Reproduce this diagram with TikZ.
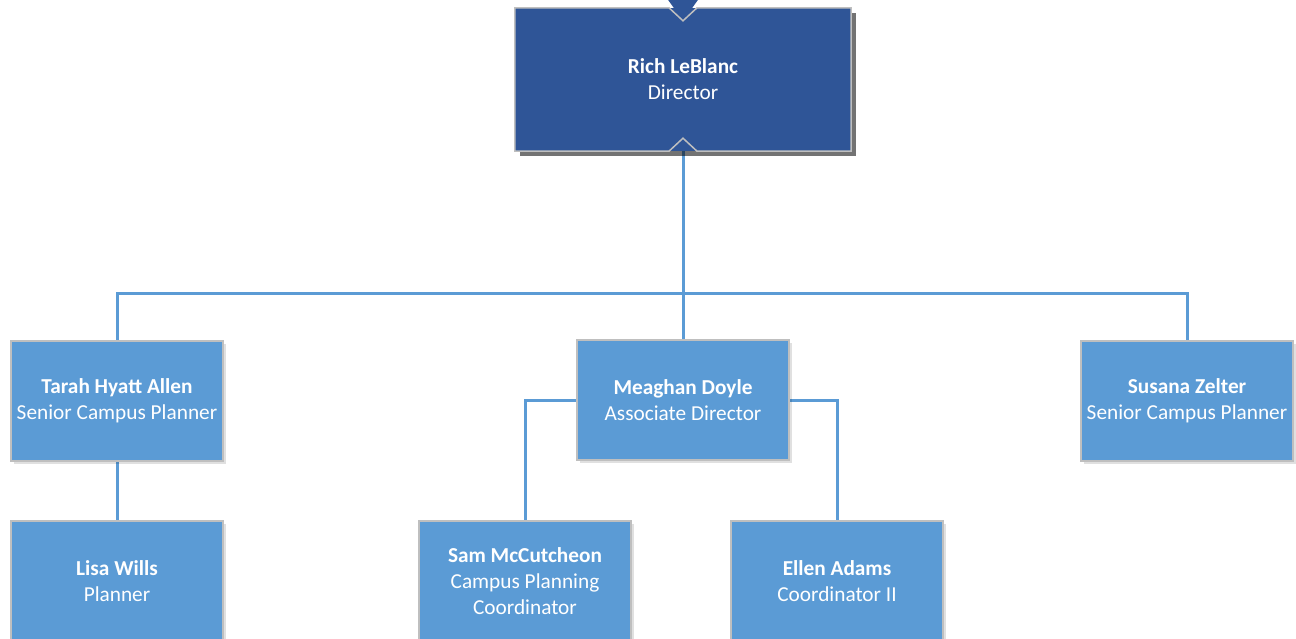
\documentclass[tikz,border=0pt]{standalone}
\usepackage{fontspec}
\setmainfont{Carlito}
\usetikzlibrary{shadows,backgrounds,calc}
\definecolor{darkblue}{HTML}{2F5597}
\definecolor{lightblue}{HTML}{5B9BD5}
\definecolor{edgegray}{HTML}{BFBFBF}
\tikzset{
  person/.style={fill=lightblue, draw=edgegray, line width=1.2pt, minimum width=212pt, minimum height=120pt,
    text=white, align=center, inner sep=0pt, font=\fontsize{21.3}{26}\selectfont,
    drop shadow={shadow xshift=3pt, shadow yshift=-3pt, opacity=0.12, fill=black}},
  topbox/.style={fill=darkblue, minimum width=336pt, minimum height=143pt,
    text=white, align=center, inner sep=0pt, font=\fontsize{21.3}{26}\selectfont,
    drop shadow={shadow xshift=5pt, shadow yshift=-5pt, opacity=0.55, fill=black}},
  conn/.style={draw=lightblue, line width=3pt},
  rim/.style={draw=edgegray, line width=1.5pt, line join=miter}
}
\begin{document}
\begin{tikzpicture}[x=1pt,y=-1pt]
\useasboundingbox (0,0) rectangle (1296,639);
\clip (0,0) rectangle (1296,639);
% director
\node[topbox] (dir) at (683,79.5) {\textbf{Rich LeBlanc}\\Director};
\fill[darkblue] ($(dir.north)+(-15,-8)$) -- ($(dir.north)+(15,-8)$) -- ($(dir.north)+(0,13)$) -- cycle;
\draw[rim] ($(dir.south)+(14,0)$) -- (dir.south east) -- (dir.north east) -- ($(dir.north)+(14,0)$)
  -- ($(dir.north)+(0,13)$) -- ($(dir.north)+(-14,0)$) -- (dir.north west) -- (dir.south west)
  -- ($(dir.south)+(-14,0)$) -- ($(dir.south)+(0,-13)$) -- cycle;
% second row
\node[person] (tarah) at (117,401) {\textbf{Tarah Hyatt Allen}\\Senior Campus Planner};
\node[person] (meaghan) at (683,400) {\textbf{Meaghan Doyle}\\Associate Director};
\node[person] (susana) at (1187,401) {\textbf{Susana Zelter}\\Senior Campus Planner};
% third row
\node[person] (lisa) at (117,581) {\textbf{Lisa Wills}\\Planner};
\node[person] (sam) at (525,581) {\textbf{Sam McCutcheon}\\Campus Planning\\Coordinator};
\node[person] (ellen) at (837,581) {\textbf{Ellen Adams}\\Coordinator II};
\coordinate (bus) at (683,293);
\begin{scope}[on background layer]
\fill[white] (0,0) rectangle (1296,639);
\draw[conn] (dir.south) -- (meaghan.north);
\draw[conn] (tarah.north) |- (bus) -| (susana.north);
\draw[conn] (tarah.south) -- (lisa.north);
\draw[conn] (meaghan.west) -| (sam.north);
\draw[conn] (meaghan.east) -| (ellen.north);
\end{scope}
\end{tikzpicture}
\end{document}
